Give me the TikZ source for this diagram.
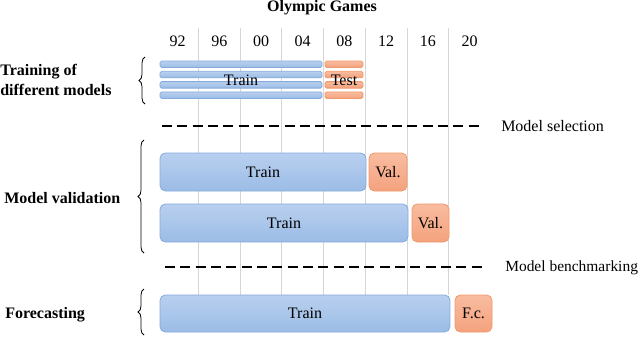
\documentclass[tikz,border=0pt]{standalone}
\usepackage{fontspec}
\setmainfont{Liberation Serif}
\usepackage{tikz}
\usetikzlibrary{backgrounds}
\usetikzlibrary{decorations.pathreplacing}

\definecolor{traintop}{HTML}{B9D0EF}
\definecolor{trainbot}{HTML}{9BBCE6}
\definecolor{trainedge}{HTML}{86ABDD}
\definecolor{testtop}{HTML}{F9BCA0}
\definecolor{testbot}{HTML}{F4A27E}
\definecolor{testedge}{HTML}{F0996A}
\definecolor{gridgray}{HTML}{D6D6D6}

\newcommand{\diagfont}{\rmfamily\fontsize{12}{15}\selectfont}

\tikzset{
  trainbar/.style={draw=trainedge, line width=0.6pt, rounded corners=4pt, top color=traintop, bottom color=trainbot},
  testbar/.style={draw=testedge, line width=0.6pt, rounded corners=4pt, top color=testtop, bottom color=testbot},
  thinbar/.style={rounded corners=1.2pt},
  phase/.style={font=\diagfont\bfseries, anchor=west, align=left, inner sep=0pt},
  cut/.style={line width=2.2pt, dash pattern=on 7.5pt off 4pt},
  lbrace/.style={decorate, decoration={brace, amplitude=4.5pt}, line width=0.6pt}
}

\begin{document}
\begin{tikzpicture}[x=0.75pt, y=-0.75pt, font=\diagfont]

\useasboundingbox (0,0) rectangle (640,337);

%%%%%%%%%%%%%%% Year columns
\node [font=\diagfont\bfseries] (title) at (322,8) {Olympic Games};

\foreach \yr [count=\i from 0] in {92,96,00,04,08,12,16,20}
  \node (yr\i) at (177.6+41.7*\i,41) {\yr};

\begin{pgfonlayer}{background}
\foreach \i in {0,...,6}
  \draw [gridgray, line width=0.7pt] (198.5+41.7*\i,28) -- (198.5+41.7*\i,295);
\end{pgfonlayer}

%%%%%%%%%%%%%%% Training of different models
\foreach \k in {0,...,3} {
  \draw [trainbar, thinbar] (160,61+10.3*\k) rectangle (322,67.5+10.3*\k);
  \draw [testbar, thinbar] (325,61+10.3*\k) rectangle (363,67.5+10.3*\k);
}

\node (trtrain) at (241,80) {Train};
\node (trtest) at (344,80) {Test};

\draw [lbrace] (145,104) -- (145,57);
\node [phase] (trlab) at (0,80) {Training of\\different models};

%%%%%%%%%%%%%%% Model selection
\coordinate (sel1) at (162,126);
\coordinate (sel2) at (483,126);
\draw [cut] (sel1) -- (sel2);
\node [anchor=west, inner sep=0pt] (sellab) at (501,126) {Model selection};

%%%%%%%%%%%%%%% Model validation
\draw [trainbar] (160,153) rectangle (366,191);
\draw [testbar] (369,153) rectangle (407,191);
\draw [trainbar] (160,204) rectangle (408,242);
\draw [testbar] (412,204) rectangle (449,242);

\node (vtrain1) at (263,172) {Train};
\node (vval1) at (388,172) {Val.};
\node (vtrain2) at (284,223) {Train};
\node (vval2) at (430.5,223) {Val.};

\draw [lbrace] (144,253) -- (144,140);
\node [phase] (vallab) at (4,198) {Model validation};

%%%%%%%%%%%%%%% Model benchmarking
\coordinate (ben1) at (165,267);
\coordinate (ben2) at (483,267);
\draw [cut] (ben1) -- (ben2);
\node [anchor=west, inner sep=0pt, font=\rmfamily\fontsize{11.6}{14}\selectfont] (benlab) at (505,268) {Model benchmarking};

%%%%%%%%%%%%%%% Forecasting
\draw [trainbar] (160,295) rectangle (450,332);
\draw [testbar] (455,295) rectangle (492,332);

\node (ftrain) at (305,313.5) {Train};
\node (ffc) at (473.5,313.5) {F.c.};

\draw [lbrace] (144,335) -- (144,289);
\node [phase] (fclab) at (5,315) {Forecasting};

\end{tikzpicture}
\end{document}
